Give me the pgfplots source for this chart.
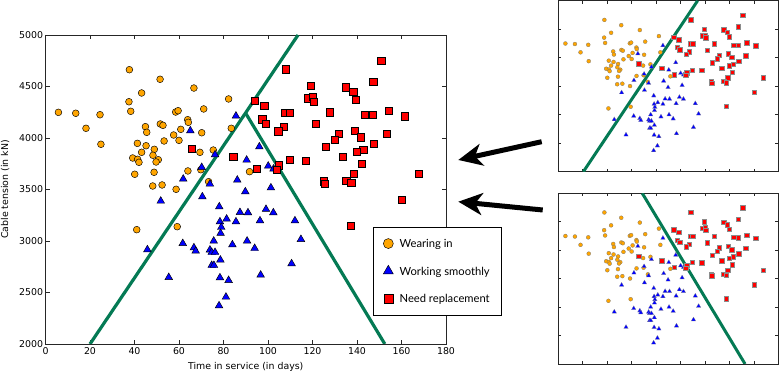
\documentclass[border=0pt]{standalone}
\usepackage{fontspec}
\setmainfont{DejaVu Sans}
\newfontfamily\legendfont{Lato}
\usepackage{pgfplots}
\usepackage{pgfplotstable}
\pgfplotsset{compat=1.18}
\usetikzlibrary{arrows.meta}
\definecolor{lineg}{RGB}{4,122,84}
\definecolor{mkorange}{RGB}{255,165,0}
\definecolor{mkblue}{RGB}{0,0,255}
\definecolor{mkred}{RGB}{255,0,0}

\pgfplotstableread{
x y
5.8 4249
13.6 4240
24.5 4226
18.2 4094
24.9 3939
37.7 4663
51.5 4570
43.2 4437
37.5 4352
38.3 4259
66.7 4485
82.3 4379
58.5 4252
59.6 4265
71.1 4282
63.9 4178
64.2 4152
51.6 4136
52.8 4123
44.9 4110
45.5 4055
60.8 4084
70.2 4051
83.5 4094
57.6 4029
53.3 3971
60.0 3977
41.3 3948
45.2 3925
48.9 3890
43.2 3861
48.3 3832
39.2 3806
41.4 3793
42.0 3764
50.7 3789
49.7 3767
40.1 3648
48.8 3667
69.4 3861
75.4 3883
64.0 3680
69.8 3692
73.3 3576
48.2 3534
52.4 3544
58.7 3502
91.7 3673
41.0 3110
59.2 3139
}\wearing

\pgfplotstableread{
x y
85.6 4214
65.1 4071
76.2 3838
90.4 3786
70.2 3715
61.9 3602
73.9 3553
86.2 3592
96.1 3915
100.1 3728
102.5 3700
101.3 3517
51.8 3388
70.5 3430
89.8 3479
78.1 3333
87.4 3278
91.0 3275
78.4 3187
81.4 3214
79.0 3133
85.6 3187
78.7 3075
75.6 3000
84.0 2964
90.6 3000
61.7 2977
66.7 2935
67.5 2903
45.8 2916
73.9 2913
74.7 2890
76.2 2890
78.6 2816
74.7 2764
75.7 2764
55.4 2647
78.4 2644
82.3 2618
81.1 2456
78.0 2372
99.1 3308
102.4 3275
96.4 3197
112.1 3197
94.0 2929
114.8 3016
110.6 2780
96.7 2670
}\working

\pgfplotstableread{
x y
108.1 4667
150.9 4751
119.3 4505
147.3 4547
135.1 4492
138.3 4453
94.2 4359
117.7 4386
120.1 4401
120.5 4350
139.6 4372
98.3 4317
107.6 4246
109.9 4246
127.7 4250
143.3 4226
147.1 4223
154.2 4262
161.4 4211
97.4 4182
99.1 4139
121.6 4136
107.2 4110
104.6 4065
131.8 4045
139.1 4071
130.1 3987
141.7 4007
153.4 4039
125.9 3916
147.5 3942
142.8 3886
139.9 3864
133.7 3816
109.6 3786
117.1 3780
142.1 3748
104.9 3735
94.9 3702
104.0 3690
138.5 3653
167.7 3653
125.2 3580
125.5 3556
135.2 3585
137.4 3566
160.1 3398
137.3 3152
65.7 3896
84.4 3818
}\replace

\pgfplotsset{
  common/.style={
    scale only axis,
    anchor=south west,
    xmin=0, xmax=180, ymin=2000, ymax=5000,
    xtick={0,20,...,180}, ytick={2000,2500,...,5000},
    tick align=inside,
    axis line style={black!85, line width=0.8pt},
    every tick/.style={black!85, line width=0.6pt},
    clip=true,
  },
  insetpts/.style={
    mark options={line width=0.2pt, draw=black!45},
  },
}

\begin{document}
\begin{tikzpicture}
\useasboundingbox (0pt,0pt) rectangle (780pt,374pt);

% main axis
\begin{axis}[common,
  at={(45.5pt,30pt)}, width=400.5pt, height=309pt,
  major tick length=4pt,
  /pgf/number format/assume math mode=true,
  /pgf/number format/1000 sep={},
  every tick label/.append style={font=\fontsize{9.4}{11}\selectfont},
  yticklabel style={xshift=1.2pt},
  xlabel={Time in service (in days)},
  ylabel={Cable tension (in kN)},
  label style={font=\fontsize{9.4}{11}\selectfont},
  xlabel style={at={(axis description cs:0.5,-0.0754)}, anchor=center},
  ylabel style={at={(axis description cs:-0.101,0.5)}, anchor=center},
  legend style={at={(axis description cs:0.8185,0.3796)}, anchor=north west,
    draw=black, fill=white, line width=0.6pt,
    font=\legendfont\fontsize{11.2}{13}\selectfont,
    inner xsep=9.7pt, inner ysep=2.8pt, row sep=0pt, column sep=4.3pt,
    nodes={inner sep=2pt, text height=15.75pt, text depth=7.75pt},
    cells={anchor=west}},
]
\addplot[only marks, mark=*, mark size=3.4pt,
  mark options={fill=mkorange, draw=black, line width=0.45pt},
  legend image code/.code={\draw[mark size=5pt, mark repeat=2, mark phase=2] plot coordinates {(0pt,0pt)(7pt,0pt)(14pt,0pt)};}]
  table {\wearing};
\addlegendentry{Wearing in}
\addplot[only marks, mark=triangle*, mark size=4.4pt,
  mark options={fill=mkblue, draw=black, line width=0.45pt},
  legend image code/.code={\draw[mark size=5.8pt, mark repeat=2, mark phase=2] plot coordinates {(0pt,0pt)(7pt,0pt)(14pt,0pt)};}]
  table {\working};
\addlegendentry{Working smoothly}
\addplot[only marks, mark=square*, mark size=3.6pt,
  mark options={fill=mkred, draw=black, line width=0.45pt},
  legend image code/.code={\draw[mark size=4.6pt, mark repeat=2, mark phase=2] plot coordinates {(0pt,0pt)(7pt,0pt)(14pt,0pt)};}]
  table {\replace};
\addlegendentry{Need replacement}
\addplot[lineg, line width=3.2pt, no marks, forget plot] coordinates {(20,2000) (113.5,5000)};
\addplot[lineg, line width=3.2pt, no marks, forget plot] coordinates {(89.9,4243) (152.5,2000)};
\end{axis}

% inset 1
\begin{axis}[common,
  at={(558.3pt,202.3pt)}, width=220pt, height=171pt,
  major tick length=3pt,
  xticklabels={}, yticklabels={},
]
\addplot[only marks, mark=*, mark size=2pt,
  mark options={fill=mkorange, draw=black!55, line width=0.25pt}] table {\wearing};
\addplot[only marks, mark=triangle*, mark size=2.6pt,
  mark options={fill=mkblue, draw=black!45, line width=0.2pt}] table {\working};
\addplot[only marks, mark=square*, mark size=2.2pt,
  mark options={fill=mkred, draw=black!45, line width=0.2pt}] table {\replace};
\addplot[lineg, line width=3pt, no marks] coordinates {(20.5,2000) (114,5000)};
\end{axis}

% inset 2
\begin{axis}[common,
  at={(558.3pt,10pt)}, width=220pt, height=170.7pt,
  major tick length=3pt,
  xticklabels={}, yticklabels={},
]
\addplot[only marks, mark=*, mark size=2pt,
  mark options={fill=mkorange, draw=black!55, line width=0.25pt}] table {\wearing};
\addplot[only marks, mark=triangle*, mark size=2.6pt,
  mark options={fill=mkblue, draw=black!45, line width=0.2pt}] table {\working};
\addplot[only marks, mark=square*, mark size=2.2pt,
  mark options={fill=mkred, draw=black!45, line width=0.2pt}] table {\replace};
\addplot[lineg, line width=3pt, no marks] coordinates {(68.7,5000) (152.8,2000)};
\end{axis}

% arrows
\draw[black, line width=5pt, -{Stealth[length=24pt, width=22pt, inset=7pt]}] (541.7pt,232.3pt) -- (458.3pt,214pt);
\draw[black, line width=5pt, -{Stealth[length=24pt, width=22pt, inset=7pt]}] (542.7pt,164pt) -- (458.3pt,172.3pt);
\end{tikzpicture}
\end{document}
